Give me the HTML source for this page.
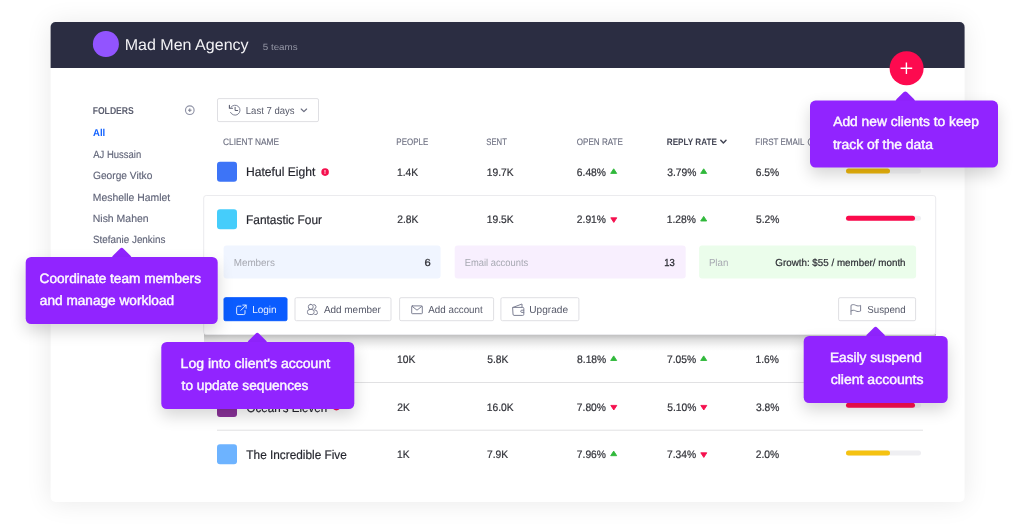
<!DOCTYPE html>
<html>
<head>
<meta charset="utf-8">
<title>Mad Men Agency</title>
<style>
*{box-sizing:border-box;margin:0;padding:0}
html,body{width:1024px;height:531px;overflow:hidden;background:#fff}
body{font-family:"Liberation Sans",sans-serif;position:relative}
.b,.t,.arr{position:absolute;left:0;top:0;transform-origin:0 0}
.t{white-space:nowrap;line-height:20px;text-rendering:geometricPrecision}
.b i{position:absolute;left:0;top:0;height:100%;border-radius:3px}
.tip{background:#9124ff;border-radius:5.5px;box-shadow:0 7px 16px rgba(0,0,0,.16)}
.arr{width:15px;height:15px;background:#9124ff;border-radius:2.5px;transform-origin:50% 50%}
svg{position:absolute;left:0;top:0;overflow:visible}
.i{fill:none;stroke:#7e8194;stroke-width:1;stroke-linecap:round;stroke-linejoin:round}
</style>
</head>
<body>
<div class="b" style="width:914.40px;height:479.80px;transform:translate(50.60px,22.00px);background:#fff;border-radius:5px;box-shadow:0 1px 26px rgba(0,0,0,.085)"></div>
<div class="b" style="width:914.40px;height:45.80px;transform:translate(50.60px,22.00px);background:#2b2d42;border-radius:5px 5px 0 0"></div>
<div class="b" style="width:25.70px;height:25.70px;transform:translate(92.90px,31.10px);background:#9254ff;border-radius:50%"></div>
<div class="b" style="width:102.00px;height:23.60px;transform:translate(217.00px,98.10px);background:#fff;border:1px solid #dfdfe3;border-radius:2px"></div>
<div class="b" style="width:706.00px;height:1.40px;transform:translate(217.00px,382.00px);background:#e1e1e3"></div>
<div class="b" style="width:706.00px;height:1.40px;transform:translate(217.00px,429.70px);background:#e1e1e3"></div>
<div class="b" style="width:19.80px;height:19.90px;transform:translate(217.00px,161.80px);background:#3d74f7;border-radius:3px"></div>
<div class="b" style="width:19.80px;height:19.90px;transform:translate(217.00px,397.00px);background:#8a3299;border-radius:3px"></div>
<div class="b" style="width:19.80px;height:19.90px;transform:translate(217.00px,444.20px);background:#6db3ff;border-radius:3px"></div>
<div class="b" style="width:75.00px;height:5.35px;transform:translate(846.00px,168.55px);background:#f6f6f8;border-radius:3px"><i style="width:44px;background:#f0b80c"></i></div>
<div class="b" style="width:75.00px;height:5.35px;transform:translate(846.00px,402.85px);background:#f4f4f6;border-radius:3px"><i style="width:68.6px;background:#ff0f52"></i></div>
<div class="b" style="width:75.00px;height:5.35px;transform:translate(846.00px,450.55px);background:#efeff2;border-radius:3px"><i style="width:44px;background:#f5c211"></i></div>
<div class="b" style="width:732.00px;height:17.00px;transform:translate(204.00px,334.00px);background:linear-gradient(rgba(0,0,0,.27),rgba(0,0,0,.12) 35%,rgba(0,0,0,.03) 75%,rgba(0,0,0,0));border-radius:0 0 3px 3px"></div>
<div class="b" style="width:733.00px;height:140.30px;transform:translate(203.20px,195.00px);background:#fff;border:1px solid #ebebee;border-radius:3px"></div>
<div class="b" style="width:19.80px;height:19.90px;transform:translate(217.00px,209.30px);background:#45cdfb;border-radius:3px"></div>
<div class="b" style="width:75.00px;height:5.35px;transform:translate(846.00px,215.85px);background:#efeff2;border-radius:3px"><i style="width:68.6px;background:#fb0a4c"></i></div>
<div class="b" style="width:217.20px;height:33.10px;transform:translate(223.60px,245.40px);background:#f0f5ff;border-radius:3px"></div>
<div class="b" style="width:230.50px;height:33.10px;transform:translate(454.70px,245.40px);background:#f8effe;border-radius:3px"></div>
<div class="b" style="width:217.30px;height:33.10px;transform:translate(699.10px,245.40px);background:#ebfdeb;border-radius:3px"></div>
<div class="b" style="width:64.10px;height:24.20px;transform:translate(223.50px,297.20px);background:#0a5cff;border:1px solid #0a5cff;border-radius:2px"></div>
<div class="b" style="width:97.40px;height:24.20px;transform:translate(294.50px,297.20px);background:#fff;border:1px solid #dfdfe3;border-radius:2px"></div>
<div class="b" style="width:94.50px;height:24.20px;transform:translate(399.10px,297.20px);background:#fff;border:1px solid #dfdfe3;border-radius:2px"></div>
<div class="b" style="width:78.50px;height:24.20px;transform:translate(500.40px,297.20px);background:#fff;border:1px solid #dfdfe3;border-radius:2px"></div>
<div class="b" style="width:78.30px;height:24.20px;transform:translate(838.10px,297.20px);background:#fff;border:1px solid #dfdfe3;border-radius:2px"></div>
<svg width="1024" height="531" viewBox="0 0 1024 531">
<defs>
<path id="up" d="M3.500 .4L6.500 5H.5Z" stroke-width=".9" stroke-linejoin="round"/>
<path id="dn" d="M3.500 5.200L6.500 .6H.5Z" stroke-width=".9" stroke-linejoin="round"/>
</defs>
<!-- folder add -->
<g fill="none" stroke="#9093a6"><circle cx="189.800" cy="110.200" r="4.300" stroke-width="1.150"/><path d="M189.800 108.400v3.600M188 110.200h3.600" stroke="#6e7184" stroke-width=".9"/></g>
<!-- clock -->
<g class="i"><path d="M230.900 107.300A5 5 0 1 1 230.500 112.400"/><path d="M229.400 105.200V108.200H232.500" stroke="#5b5e70" stroke-width="1.100"/><path d="M235.100 107.300V110.500H237.700" stroke="#5b5e70"/></g>
<path d="M301.200 109l2.700 2.700l2.700-2.700" fill="none" stroke="#6b6e80" stroke-width="1.150" stroke-linecap="round" stroke-linejoin="round"/>
<!-- sort chevron -->
<path d="M720.800 140.300l2.600 2.700l2.600-2.700" fill="none" stroke="#444655" stroke-width="1.500" stroke-linecap="round" stroke-linejoin="round"/>
<!-- info icon -->
<circle cx="812" cy="142" r="3.900" fill="none" stroke="#6c6f80" stroke-width=".9"/>
<!-- alert dots -->
<circle cx="325.100" cy="172.100" r="3.800" fill="#f5104e"/>
<circle cx="336.400" cy="406.600" r="3.800" fill="#f5104e"/>
<g font-family="Liberation Sans,sans-serif" font-size="6" font-weight="bold" fill="#fff" text-anchor="middle"><text x="325.100" y="174.200">!</text><text x="336.400" y="409.100">!</text></g>
<!-- login -->
<g class="i" style="stroke:#e9f0ff" transform="translate(235.700 304.100) scale(.95)"><path d="M5.500 2.200H2.400A1.400 1.400 0 0 0 1 3.600V9.600A1.400 1.400 0 0 0 2.400 11H8.400A1.400 1.400 0 0 0 9.800 9.600V6.800"/><path d="M7.500 1H11V4.500M11 1L5.500 6.500"/></g>
<!-- add member -->
<g class="i"><rect x="308.300" y="304.400" width="4.900" height="4.900" rx="2.300"/><rect x="307.400" y="309.500" width="6.700" height="5" rx="2.200"/><path d="M313.800 304.500A2.400 2.400 0 0 1 314.300 309.200"/><path d="M314.800 309.800A2.800 2.800 0 0 1 317.400 312.500V313A1.500 1.500 0 0 1 315.900 314.500H314.800"/></g>
<!-- add account -->
<g class="i" transform="translate(411.200 305.400)"><rect x=".5" y=".5" width="10.600" height="7.800" rx=".6"/><path d="M1 1L5.800 4.800L10.600 1"/></g>
<!-- upgrade -->
<g class="i" transform="translate(512.200 303.200)"><path d="M.8 4.200H10.600A1 1 0 0 1 11.600 5.200V11.200A1 1 0 0 1 10.600 12.200H1.800A1 1 0 0 1 .8 11.200Z"/><path d="M.8 4.200L9.800.8V4.200"/><path d="M11.600 7H9.600A1.100 1.100 0 0 0 9.600 9.200H11.600"/></g>
<!-- suspend -->
<path class="i" d="M851 314.500V305.300C852.500 304.400 854 304.400 855.700 305.300C857.400 306.200 859 306.100 860.600 305.400V311C859 311.700 857.400 311.800 855.700 310.900C854 310 852.500 310 851 310.900"/>
<!-- triangles -->
<g fill="#2fb83a" stroke="#2fb83a">
<use href="#up" x="610.200" y="168.400"/><use href="#up" x="700.200" y="168.400"/>
<use href="#up" x="700.200" y="216.000"/>
<use href="#up" x="610.200" y="355.500"/><use href="#up" x="700.200" y="355.500"/>
<use href="#up" x="610.200" y="450.700"/>
</g>
<g fill="#f5104e" stroke="#f5104e">
<use href="#dn" x="610.300" y="217.200"/>
<use href="#dn" x="610.300" y="404.800"/><use href="#dn" x="700.300" y="404.800"/>
<use href="#dn" x="700.300" y="452.200"/>
</g>
</svg>

<div class="t" style="font-size:15.8px;color:#f2f2f5;transform:translate(124.63px,36.00px) scaleX(1.0161)">Mad Men Agency</div>
<div class="t" style="font-size:9px;color:#9496a5;transform:translate(262.76px,37.00px) scaleX(1.0880)">5 teams</div>
<div class="t" style="font-size:10px;color:#5d6071;transform:translate(92.65px,102.00px) scaleX(0.8620);font-weight:bold">FOLDERS</div>
<div class="t" style="font-size:10px;color:#1463ff;transform:translate(93.06px,124.00px) scaleX(0.9532);font-weight:bold">All</div>
<div class="t" style="font-size:10.5px;color:#62667a;transform:translate(93.30px,145.00px) scaleX(0.9010);-webkit-text-stroke:0.15px #62667a">AJ Hussain</div>
<div class="t" style="font-size:10.5px;color:#62667a;transform:translate(93.01px,166.00px) scaleX(0.9710);-webkit-text-stroke:0.15px #62667a">George Vitko</div>
<div class="t" style="font-size:10.5px;color:#62667a;transform:translate(92.76px,188.00px) scaleX(0.9897);-webkit-text-stroke:0.15px #62667a">Meshelle Hamlet</div>
<div class="t" style="font-size:10.5px;color:#62667a;transform:translate(92.75px,209.00px) scaleX(0.9973);-webkit-text-stroke:0.15px #62667a">Nish Mahen</div>
<div class="t" style="font-size:10.5px;color:#62667a;transform:translate(93.03px,230.00px) scaleX(0.9390);-webkit-text-stroke:0.15px #62667a">Stefanie Jenkins</div>
<div class="t" style="font-size:10.2px;color:#565969;transform:translate(245.80px,102.00px) scaleX(0.9353)">Last 7 days</div>
<div class="t" style="font-size:9.3px;color:#6c6f80;transform:translate(223.05px,132.00px) scaleX(0.8976);-webkit-text-stroke:0.12px #6c6f80">CLIENT NAME</div>
<div class="t" style="font-size:9.3px;color:#6c6f80;transform:translate(396.36px,132.00px) scaleX(0.8579);-webkit-text-stroke:0.12px #6c6f80">PEOPLE</div>
<div class="t" style="font-size:9.3px;color:#6c6f80;transform:translate(486.29px,132.00px) scaleX(0.8289);-webkit-text-stroke:0.12px #6c6f80">SENT</div>
<div class="t" style="font-size:9.3px;color:#6c6f80;transform:translate(576.78px,132.00px) scaleX(0.8686);-webkit-text-stroke:0.12px #6c6f80">OPEN RATE</div>
<div class="t" style="font-size:9.3px;color:#444655;transform:translate(666.76px,132.00px) scaleX(0.8764);font-weight:bold">REPLY RATE</div>
<div class="t" style="font-size:9.3px;color:#6c6f80;transform:translate(755.36px,132.00px) scaleX(0.8569);-webkit-text-stroke:0.12px #6c6f80">FIRST EMAIL</div>
<div class="t" style="font-size:12.5px;color:#25262e;transform:translate(246.03px,162.00px) scaleX(0.9674);-webkit-text-stroke:0.18px #25262e">Hateful Eight</div>
<div class="t" style="font-size:10.9px;color:#34353c;transform:translate(396.99px,163.00px) scaleX(0.9442);-webkit-text-stroke:0.22px #34353c">1.4K</div>
<div class="t" style="font-size:10.9px;color:#34353c;transform:translate(486.69px,163.00px) scaleX(0.9442);-webkit-text-stroke:0.22px #34353c">19.7K</div>
<div class="t" style="font-size:10.9px;color:#34353c;transform:translate(576.83px,163.00px) scaleX(0.9442);-webkit-text-stroke:0.22px #34353c">6.48%</div>
<div class="t" style="font-size:10.9px;color:#34353c;transform:translate(667.26px,163.00px) scaleX(0.9442);-webkit-text-stroke:0.22px #34353c">3.79%</div>
<div class="t" style="font-size:10.9px;color:#34353c;transform:translate(755.73px,163.00px) scaleX(0.9442);-webkit-text-stroke:0.22px #34353c">6.5%</div>
<div class="t" style="font-size:12.5px;color:#25262e;transform:translate(246.05px,210.00px) scaleX(0.9511);-webkit-text-stroke:0.18px #25262e">Fantastic Four</div>
<div class="t" style="font-size:10.9px;color:#34353c;transform:translate(397.23px,210.00px) scaleX(0.9442);-webkit-text-stroke:0.22px #34353c">2.8K</div>
<div class="t" style="font-size:10.9px;color:#34353c;transform:translate(486.69px,210.00px) scaleX(0.9442);-webkit-text-stroke:0.22px #34353c">19.5K</div>
<div class="t" style="font-size:10.9px;color:#34353c;transform:translate(576.83px,210.00px) scaleX(0.9442);-webkit-text-stroke:0.22px #34353c">2.91%</div>
<div class="t" style="font-size:10.9px;color:#34353c;transform:translate(666.79px,210.00px) scaleX(0.9442);-webkit-text-stroke:0.22px #34353c">1.28%</div>
<div class="t" style="font-size:10.9px;color:#34353c;transform:translate(755.96px,210.00px) scaleX(0.9442);-webkit-text-stroke:0.22px #34353c">5.2%</div>
<div class="t" style="font-size:10.9px;color:#34353c;transform:translate(396.99px,350.00px) scaleX(0.9442);-webkit-text-stroke:0.22px #34353c">10K</div>
<div class="t" style="font-size:10.9px;color:#34353c;transform:translate(487.16px,350.00px) scaleX(0.9442);-webkit-text-stroke:0.22px #34353c">5.8K</div>
<div class="t" style="font-size:10.9px;color:#34353c;transform:translate(577.06px,350.00px) scaleX(0.9442);-webkit-text-stroke:0.22px #34353c">8.18%</div>
<div class="t" style="font-size:10.9px;color:#34353c;transform:translate(667.03px,350.00px) scaleX(0.9442);-webkit-text-stroke:0.22px #34353c">7.05%</div>
<div class="t" style="font-size:10.9px;color:#34353c;transform:translate(755.49px,350.00px) scaleX(0.9442);-webkit-text-stroke:0.22px #34353c">1.6%</div>
<div class="t" style="font-size:12.5px;color:#25262e;transform:translate(246.54px,398.00px) scaleX(0.9244);-webkit-text-stroke:0.18px #25262e">Ocean's Eleven</div>
<div class="t" style="font-size:10.9px;color:#34353c;transform:translate(397.23px,398.00px) scaleX(0.9442);-webkit-text-stroke:0.22px #34353c">2K</div>
<div class="t" style="font-size:10.9px;color:#34353c;transform:translate(486.69px,398.00px) scaleX(0.9442);-webkit-text-stroke:0.22px #34353c">16.0K</div>
<div class="t" style="font-size:10.9px;color:#34353c;transform:translate(576.83px,398.00px) scaleX(0.9442);-webkit-text-stroke:0.22px #34353c">7.80%</div>
<div class="t" style="font-size:10.9px;color:#34353c;transform:translate(667.26px,398.00px) scaleX(0.9442);-webkit-text-stroke:0.22px #34353c">5.10%</div>
<div class="t" style="font-size:10.9px;color:#34353c;transform:translate(755.96px,398.00px) scaleX(0.9442);-webkit-text-stroke:0.22px #34353c">3.8%</div>
<div class="t" style="font-size:12.5px;color:#25262e;transform:translate(246.36px,445.00px) scaleX(0.9450);-webkit-text-stroke:0.18px #25262e">The Incredible Five</div>
<div class="t" style="font-size:10.9px;color:#34353c;transform:translate(396.99px,445.00px) scaleX(0.9442);-webkit-text-stroke:0.22px #34353c">1K</div>
<div class="t" style="font-size:10.9px;color:#34353c;transform:translate(486.93px,445.00px) scaleX(0.9442);-webkit-text-stroke:0.22px #34353c">7.9K</div>
<div class="t" style="font-size:10.9px;color:#34353c;transform:translate(576.83px,445.00px) scaleX(0.9442);-webkit-text-stroke:0.22px #34353c">7.96%</div>
<div class="t" style="font-size:10.9px;color:#34353c;transform:translate(667.03px,445.00px) scaleX(0.9442);-webkit-text-stroke:0.22px #34353c">7.34%</div>
<div class="t" style="font-size:10.9px;color:#34353c;transform:translate(755.73px,445.00px) scaleX(0.9442);-webkit-text-stroke:0.22px #34353c">2.0%</div>
<div class="t" style="font-size:10.2px;color:#a6a8b1;transform:translate(233.67px,254.00px) scaleX(0.9697)">Members</div>
<div class="t" style="font-size:10.2px;color:#2e2f36;transform:translate(424.45px,254.00px) scaleX(1.0947);-webkit-text-stroke:0.28px #2e2f36">6</div>
<div class="t" style="font-size:10.2px;color:#a6a8b1;transform:translate(464.71px,254.00px) scaleX(0.9191)">Email accounts</div>
<div class="t" style="font-size:10.2px;color:#2e2f36;transform:translate(664.20px,254.00px) scaleX(0.9268);-webkit-text-stroke:0.28px #2e2f36">13</div>
<div class="t" style="font-size:10.2px;color:#a6a8b1;transform:translate(708.89px,254.00px) scaleX(0.9526)">Plan</div>
<div class="t" style="font-size:10.2px;color:#2e2f36;transform:translate(775.32px,254.00px) scaleX(0.9624);-webkit-text-stroke:0.2px #2e2f36">Growth: $55 / member/ month</div>
<div class="t" style="font-size:10.2px;color:#e9f0ff;transform:translate(252.16px,301.00px) scaleX(0.9830)">Login</div>
<div class="t" style="font-size:10.2px;color:#565969;transform:translate(323.90px,301.00px) scaleX(0.9751)">Add member</div>
<div class="t" style="font-size:10.2px;color:#565969;transform:translate(428.30px,301.00px) scaleX(0.9611)">Add account</div>
<div class="t" style="font-size:10.2px;color:#565969;transform:translate(529.26px,301.00px) scaleX(0.9921)">Upgrade</div>
<div class="t" style="font-size:10.2px;color:#565969;transform:translate(867.22px,301.00px) scaleX(0.9564)">Suspend</div>
<div class="b" style="width:33.70px;height:34.10px;transform:translate(889.60px,51.20px);background:#fd0a4f;border-radius:50%"></div>
<div class="arr" style="transform:translate(897.80px,93.60px) rotate(45deg)"></div>
<div class="b tip" style="width:188.00px;height:66.80px;transform:translate(810.00px,100.60px);"></div>
<div class="arr" style="transform:translate(114.20px,250.00px) rotate(45deg)"></div>
<div class="b tip" style="width:191.80px;height:66.70px;transform:translate(25.70px,257.00px);"></div>
<div class="arr" style="transform:translate(249.80px,335.00px) rotate(45deg)"></div>
<div class="b tip" style="width:192.70px;height:66.90px;transform:translate(161.30px,342.00px);"></div>
<div class="arr" style="transform:translate(868.10px,329.00px) rotate(45deg)"></div>
<div class="b tip" style="width:143.90px;height:66.80px;transform:translate(803.70px,336.00px);"></div>
<svg width="1024" height="531" viewBox="0 0 1024 531"><path d="M906.4 62.500v11.600M900.600 68.300h11.600" stroke="#fff" stroke-width="1.400" fill="none"/></svg>
<div class="t" style="font-size:13.6px;color:#fcf8ff;transform:translate(833.25px,112.00px) scaleX(1.0146);-webkit-text-stroke:0.44px #fcf8ff">Add new clients to keep</div>
<div class="t" style="font-size:13.6px;color:#fcf8ff;transform:translate(833.00px,135.00px) scaleX(1.0251);-webkit-text-stroke:0.44px #fcf8ff">track of the data</div>
<div class="t" style="font-size:13.6px;color:#fcf8ff;transform:translate(39.60px,269.00px) scaleX(1.0028);-webkit-text-stroke:0.44px #fcf8ff">Coordinate team members</div>
<div class="t" style="font-size:13.6px;color:#fcf8ff;transform:translate(39.85px,291.00px) scaleX(1.0034);-webkit-text-stroke:0.44px #fcf8ff">and manage workload</div>
<div class="t" style="font-size:13.6px;color:#fcf8ff;transform:translate(180.57px,354.00px) scaleX(1.0337);-webkit-text-stroke:0.44px #fcf8ff">Log into client's account</div>
<div class="t" style="font-size:13.6px;color:#fcf8ff;transform:translate(181.60px,376.00px) scaleX(1.0048);-webkit-text-stroke:0.44px #fcf8ff">to update sequences</div>
<div class="t" style="font-size:13.6px;color:#fcf8ff;transform:translate(829.99px,348.00px) scaleX(1.0050);-webkit-text-stroke:0.44px #fcf8ff">Easily suspend</div>
<div class="t" style="font-size:13.6px;color:#fcf8ff;transform:translate(830.74px,370.00px) scaleX(1.0313);-webkit-text-stroke:0.44px #fcf8ff">client accounts</div>
</body>
</html>
